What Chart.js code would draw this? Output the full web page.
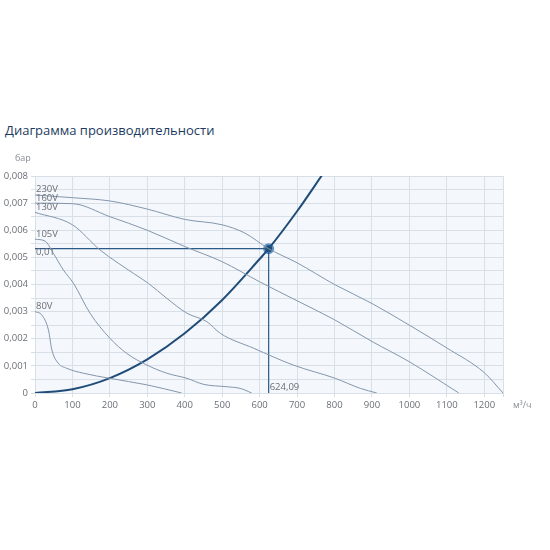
<!DOCTYPE html>
<html>
<head>
<meta charset="utf-8">
<script src="https://cdn.jsdelivr.net/npm/chart.js@4"></script>
<style>
  body { margin: 0; background: #fff; width: 550px; height: 550px; overflow: hidden; }
  #title { position: absolute; left: 5px; top: 122px; font: 13px/16px "Open Sans", sans-serif; color: #1d3b5e; }
  #wrap { position: absolute; left: 0; top: 140px; width: 550px; height: 290px; }
</style>
</head>
<body>
<div id="title">Диаграмма производительности</div>
<div id="wrap"><canvas id="myChart"></canvas></div>
<script>
// fan curves (flow m3/h, pressure bar)
var flow230 = [0, 100, 200, 300, 400, 500, 560, 624.09, 700, 800, 900, 1000, 1100, 1200, 1250];
var pres230 = [0.0073, 0.0072, 0.00708, 0.00678, 0.0064, 0.0062, 0.0059, 0.00532, 0.0048, 0.004, 0.0033, 0.0025, 0.00166, 0.00075, 0];

var flow160 = [0, 100, 200, 300, 400, 500, 600, 700, 800, 900, 1000, 1132];
var pres160 = [0.007, 0.00698, 0.0065, 0.006, 0.0054, 0.00484, 0.0041, 0.0034, 0.0027, 0.0019, 0.00115, 0];

var flow130 = [0, 100, 174, 263, 303, 352, 406, 459, 495, 584, 690, 802, 869, 913];
var pres130 = [0.00666, 0.0062, 0.00527, 0.00441, 0.00404, 0.00349, 0.00294, 0.00263, 0.0022, 0.00165, 0.00103, 0.00054, 0.00017, 0];

var flow105 = [0, 27, 49, 76, 103, 147, 200, 245, 299, 352, 406, 450, 513, 548, 579];
var pres105 = [0.00567, 0.0056, 0.00515, 0.00453, 0.00404, 0.00294, 0.00202, 0.00146, 0.00103, 0.00073, 0.00054, 0.00032, 0.00023, 0.00017, 0];

var flow80 = [0, 18, 36, 45, 62, 85, 129, 200, 299, 392];
var pres80 = [0.003, 0.00288, 0.00232, 0.00159, 0.0011, 0.00091, 0.00073, 0.00054, 0.0003, 0];

// system curve
var flowSys = [0, 100, 200, 300, 400, 500, 600, 624.09, 700, 770];
var presSys = [0, 0.00014, 0.00055, 0.00124, 0.0022, 0.00343, 0.00494, 0.00532, 0.0067, 0.0081];

// operating point
var workFlow = 624.09;
var workPres = 0.00532;
var workLabels = ['0,01', '624,09'];

// axis ticks
var xTicks = [0, 100, 200, 300, 400, 500, 600, 700, 800, 900, 1000, 1100, 1200, 1250];

var curveNames = ['230V', '160V', '130V', '105V', '80V'];
var curveFlows = [flow230, flow160, flow130, flow105, flow80];
var curvePres = [pres230, pres160, pres130, pres105, pres80];

function pts(xs, ys) {
    return xs.map(function(x, i) { return { x: x, y: ys[i] }; });
}

var curveColor = '#8497ac';
var darkBlue = '#1f4c78';
var textColor = '#6b6f75';
var font = '"Open Sans", sans-serif';

var datasets = curveNames.map(function(name, i) {
    return {
        label: name,
        data: pts(curveFlows[i], curvePres[i]),
        borderColor: curveColor,
        borderWidth: 1,
        pointRadius: 0,
        cubicInterpolationMode: 'monotone',
        fill: false
    };
});

datasets.push({
    label: 'h-line',
    data: pts([0, workFlow], [workPres, workPres]),
    borderColor: '#2b5a88',
    borderWidth: 1.2,
    pointRadius: 0
});
datasets.push({
    label: 'v-line',
    data: pts([workFlow, workFlow], [workPres, 0]),
    borderColor: '#2b5a88',
    borderWidth: 1.2,
    pointRadius: 0
});
datasets.push({
    label: 'system',
    data: pts(flowSys, presSys),
    borderColor: darkBlue,
    borderWidth: 2,
    pointRadius: 0,
    cubicInterpolationMode: 'monotone'
});
datasets.push({
    label: 'point',
    data: pts([workFlow], [workPres]),
    showLine: false,
    pointRadius: 4.5,
    pointBackgroundColor: '#1f4c78',
    pointBorderColor: '#5f93c6',
    pointBorderWidth: 2
});

// background of the plot area + text labels on curves
var extras = {
    id: 'extras',
    beforeDraw: function(chart) {
        var a = chart.chartArea, ctx = chart.ctx;
        ctx.save();
        ctx.fillStyle = '#f4f7fb';
        ctx.fillRect(a.left, a.top, a.right - a.left, a.bottom - a.top);
        ctx.restore();
    },
    afterDraw: function(chart) {
        var ctx = chart.ctx, xs = chart.scales.x, ys = chart.scales.y;
        ctx.save();
        ctx.font = '9.5px ' + font;
        ctx.fillStyle = textColor;
        ctx.textAlign = 'left';
        ctx.textBaseline = 'bottom';
        curveNames.forEach(function(name, i) {
            ctx.fillText(name, xs.getPixelForValue(0) + 1, ys.getPixelForValue(curvePres[i][0]) - 0.5);
        });
        ctx.fillText(workLabels[1], xs.getPixelForValue(workFlow) + 1, ys.getPixelForValue(0) - 1);
        ctx.textBaseline = 'top';
        ctx.fillText(workLabels[0], xs.getPixelForValue(0) + 1, ys.getPixelForValue(workPres) - 1);
        // units
        ctx.fillStyle = '#8a8f96';
        ctx.font = '9px ' + font;
        ctx.textBaseline = 'middle';
        ctx.fillText('бар', 15, ys.getPixelForValue(0.008) - 18);
        ctx.fillText('м³/ч', 513, ys.getPixelForValue(0) + 12);
        ctx.restore();
    }
};

var config = {
    type: 'line',
    data: { datasets: datasets },
    plugins: [extras],
    options: {
        responsive: true,
        maintainAspectRatio: false,
        animation: false,
        layout: { padding: { left: 0, top: 36, right: 47, bottom: 7 } },
        plugins: {
            legend: { display: false },
            tooltip: { enabled: false }
        },
        scales: {
            x: {
                type: 'linear',
                min: 0,
                max: 1250,
                afterFit: function(s) { s.height = 30; },
                afterBuildTicks: function(s) {
                    s.ticks = xTicks.map(function(v) { return { value: v }; });
                },
                ticks: {
                    autoSkip: false,
                    color: textColor,
                    font: { family: font, size: 9.5 },
                    maxRotation: 0,
                    callback: function(v) { return v % 100 === 0 ? String(v) : ''; }
                },
                grid: { color: '#d9dfe7', tickLength: 4 },
                border: { color: '#d9dfe7' }
            },
            y: {
                min: 0,
                max: 0.008,
                afterFit: function(s) { s.width = 35; },
                ticks: {
                    stepSize: 0.0005,
                    autoSkip: false,
                    color: textColor,
                    font: { family: font, size: 9.5 },
                    callback: function(v) {
                        var k = Math.round(v * 10000);
                        if (k % 10 !== 0) return '';
                        if (k === 0) return '0';
                        return (k / 10000).toFixed(3).replace('.', ',');
                    }
                },
                grid: { color: '#d9dfe7', tickLength: 4 },
                border: { color: '#d9dfe7' }
            }
        }
    }
};

window.myChart = new Chart(document.getElementById('myChart').getContext('2d'), config);
</script>
</body>
</html>
